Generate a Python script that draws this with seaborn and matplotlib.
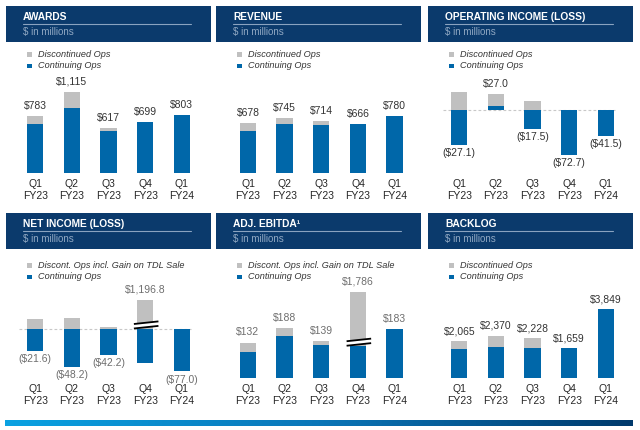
import numpy as np
import matplotlib
matplotlib.use("Agg")
import matplotlib.pyplot as plt
import seaborn as sns
from matplotlib.patches import Rectangle, Polygon
from matplotlib.lines import Line2D
from matplotlib.colors import LinearSegmentedColormap

# ---------------- data ----------------
quarters = ["Q1\nFY23", "Q2\nFY23", "Q3\nFY23", "Q4\nFY23", "Q1\nFY24"]

awards_cont = [669, 890, 577, 699, 803]
awards_disc = [114, 225, 40, 0, 0]
awards_labels = ["$783", "$1,115", "$617", "$699", "$803"]

revenue_cont = [567, 663, 649, 666, 780]
revenue_disc = [111, 82, 65, 0, 0]
revenue_labels = ["$678", "$745", "$714", "$666", "$780"]

opinc_cont = [-27.1, 2.8, -14.8, -34.8, -20.2]
opinc_disc = [13.8, 9.5, 6.5, 0, 0]
opinc_labels = ["($27.1)", "$27.0", "($17.5)", "($72.7)", "($41.5)"]

netinc_cont = [-21.6, -38.0, -25.7, -33.7, -42.3]
netinc_disc = [9.7, 11.0, 2.0, 29.3, 0]
netinc_labels = ["($21.6)", "($48.2)", "($42.2)", "$1,196.8", "($77.0)"]

ebitda_cont = [95, 158, 123, 118, 183]
ebitda_disc = [37, 30, 16, 205, 0]
ebitda_labels = ["$132", "$188", "$139", "$1,786", "$183"]

backlog_cont = [1594, 1748, 1652, 1659, 3849]
backlog_disc = [471, 622, 576, 0, 0]
backlog_labels = ["$2,065", "$2,370", "$2,228", "$1,659", "$3,849"]

titles = ["AWARDS", "REVENUE", "OPERATING INCOME (LOSS)",
          "NET INCOME (LOSS)", "ADJ. EBITDA\u00b9", "BACKLOG"]
subtitle = "$ in millions"
legend_disc = ["Discontinued Ops", "Discontinued Ops", "Discontinued Ops",
               "Discont. Ops incl. Gain on TDL Sale",
               "Discont. Ops incl. Gain on TDL Sale", "Discontinued Ops"]
legend_cont = "Continuing Ops"

# ---------------- style ----------------
sns.set_theme(style="white")
plt.rcParams["font.family"] = ["Liberation Sans", "DejaVu Sans"]

BLUE = "#0067a9"
GREY = "#c0c0c0"
NAVY = "#0b3a6c"

W, H = 640, 430
fig = plt.figure(figsize=(6.4, 4.3), dpi=100)
fig.patch.set_facecolor("white")


def fx(px):
    return px / W


def fy(py):
    return 1 - py / H


S = 36.65                      # px between bar centers
panel_lefts = [6, 216, 428]
first_centers = [35.3, 248.0, 459.3]
header_tops = [6, 213.3]
baselines = [172.7, 377.7]
legend_ys = [(54.5, 65.8), (265.5, 276.8)]
AX_H = 100.0

panels = [
    dict(cont=awards_cont, disc=awards_disc, labels=awards_labels, scale=13.8, zero=0, lc="#333333"),
    dict(cont=revenue_cont, disc=revenue_disc, labels=revenue_labels, scale=13.7, zero=0, lc="#333333"),
    dict(cont=opinc_cont, disc=opinc_disc, labels=opinc_labels, scale=0.769, zero=63.0, lc="#333333"),
    dict(cont=netinc_cont, disc=netinc_disc, labels=netinc_labels, scale=1.0, zero=48.7, lc="#6e6e6e", brk=3),
    dict(cont=ebitda_cont, disc=ebitda_disc, labels=ebitda_labels, scale=3.75, zero=0, lc="#6e6e6e", brk=3),
    dict(cont=backlog_cont, disc=backlog_disc, labels=backlog_labels, scale=56.3, zero=0, lc="#333333"),
]

for k, p in enumerate(panels):
    row, col = divmod(k, 3)
    left = panel_lefts[col]
    htop = header_tops[row]

    # header block
    fig.patches.append(Rectangle((fx(left), fy(htop + 35.8)), fx(205), 35.8 / H,
                                 transform=fig.transFigure, facecolor=NAVY,
                                 edgecolor="none", zorder=0))
    fig.text(fx(left + 17), fy(htop + 10.5), titles[k], color="white",
             fontsize=7.4, fontweight="bold", va="center", ha="left")
    fig.lines.append(Line2D([fx(left + 17), fx(left + 185)],
                            [fy(htop + 17.7), fy(htop + 17.7)],
                            transform=fig.transFigure, color="#8aa3c0", lw=0.8))
    fig.text(fx(left + 17), fy(htop + 26), subtitle, color="#8fa7c2",
             fontsize=7, va="center", ha="left")

    # legend
    for (yy, col_, txt) in [(legend_ys[row][0], GREY, legend_disc[k]),
                            (legend_ys[row][1], BLUE, legend_cont)]:
        fig.patches.append(Rectangle((fx(left + 21), fy(yy + 2.3)), fx(4.6), 4.6 / H,
                                     transform=fig.transFigure, facecolor=col_,
                                     edgecolor="none"))
        fig.text(fx(left + 31.5), fy(yy), txt, color="#333333", fontsize=6.6,
                 style="italic", va="center", ha="left")

    # plot axes
    c0 = first_centers[col]
    base = baselines[row]
    ax = fig.add_axes([fx(c0 - 0.5 * S), fy(base), fx(5 * S), AX_H / H])
    sc = p["scale"]

    cont = p["cont"]
    disc = p["disc"]
    grey_h = [c + d if c > 0 else d for c, d in zip(cont, disc)]

    if p["zero"] > 0:
        ax.plot([-0.45, 4.25], [0, 0], ls=(0, (2.5, 2)), color="#c8c8c8",
                lw=0.8, zorder=0)

    sns.barplot(x=quarters, y=grey_h, order=quarters, color=GREY, width=0.445,
                saturation=1, errorbar=None, linewidth=0, ax=ax, zorder=2)
    sns.barplot(x=quarters, y=cont, order=quarters, color=BLUE, width=0.445,
                saturation=1, errorbar=None, linewidth=0, ax=ax, zorder=3)

    ax.set_xlim(-0.5, 4.5)
    ax.set_ylim(-p["zero"] * sc, (AX_H - p["zero"]) * sc)
    for sp in ax.spines.values():
        sp.set_visible(False)
    ax.set_yticks([])
    ax.set_xlabel("")
    ax.set_ylabel("")
    ax.patch.set_alpha(0)
    ax.tick_params(axis="x", length=0, pad=4.6, labelsize=7.5, labelcolor="#262626")
    for t in ax.get_xticklabels():
        t.set_linespacing(1.25)

    # value labels
    for i, lab in enumerate(p["labels"]):
        if lab.startswith("("):
            ax.annotate(lab, (i, min(cont[i], 0)), xytext=(0, -6.0),
                        textcoords="offset points", ha="center", va="center",
                        fontsize=7.5, color=p["lc"], annotation_clip=False)
        else:
            top = max(grey_h[i], cont[i])
            ax.annotate(lab, (i, top), xytext=(0, 7.2),
                        textcoords="offset points", ha="center", va="center",
                        fontsize=7.5, color=p["lc"], annotation_clip=False)

    # axis-break marks on the broken bar
    if "brk" in p:
        b = p["brk"]
        y0 = max(cont[b], 0) + 0.5 * sc
        slope = 2.6 * sc
        gap = 4.5 * sc
        xl, xr = b - 0.31, b + 0.36
        poly = Polygon([(xl, y0), (xr, y0 + slope), (xr, y0 + slope + gap), (xl, y0 + gap)],
                       closed=True, facecolor="white", edgecolor="none", zorder=4)
        ax.add_patch(poly)
        for off in (0, gap):
            ax.plot([xl, xr], [y0 + off, y0 + slope + off], color="black",
                    lw=1.3, zorder=5, solid_capstyle="butt")

# bottom gradient strip
gax = fig.add_axes([fx(5), fy(426), fx(628), 6 / H])
cmap = LinearSegmentedColormap.from_list("strip", ["#0aa2e2", "#0a76b8", "#003a6c"])
gax.imshow(np.linspace(0, 1, 256)[None, :], aspect="auto", cmap=cmap)
gax.axis("off")

fig.savefig("out.png", dpi=100)
